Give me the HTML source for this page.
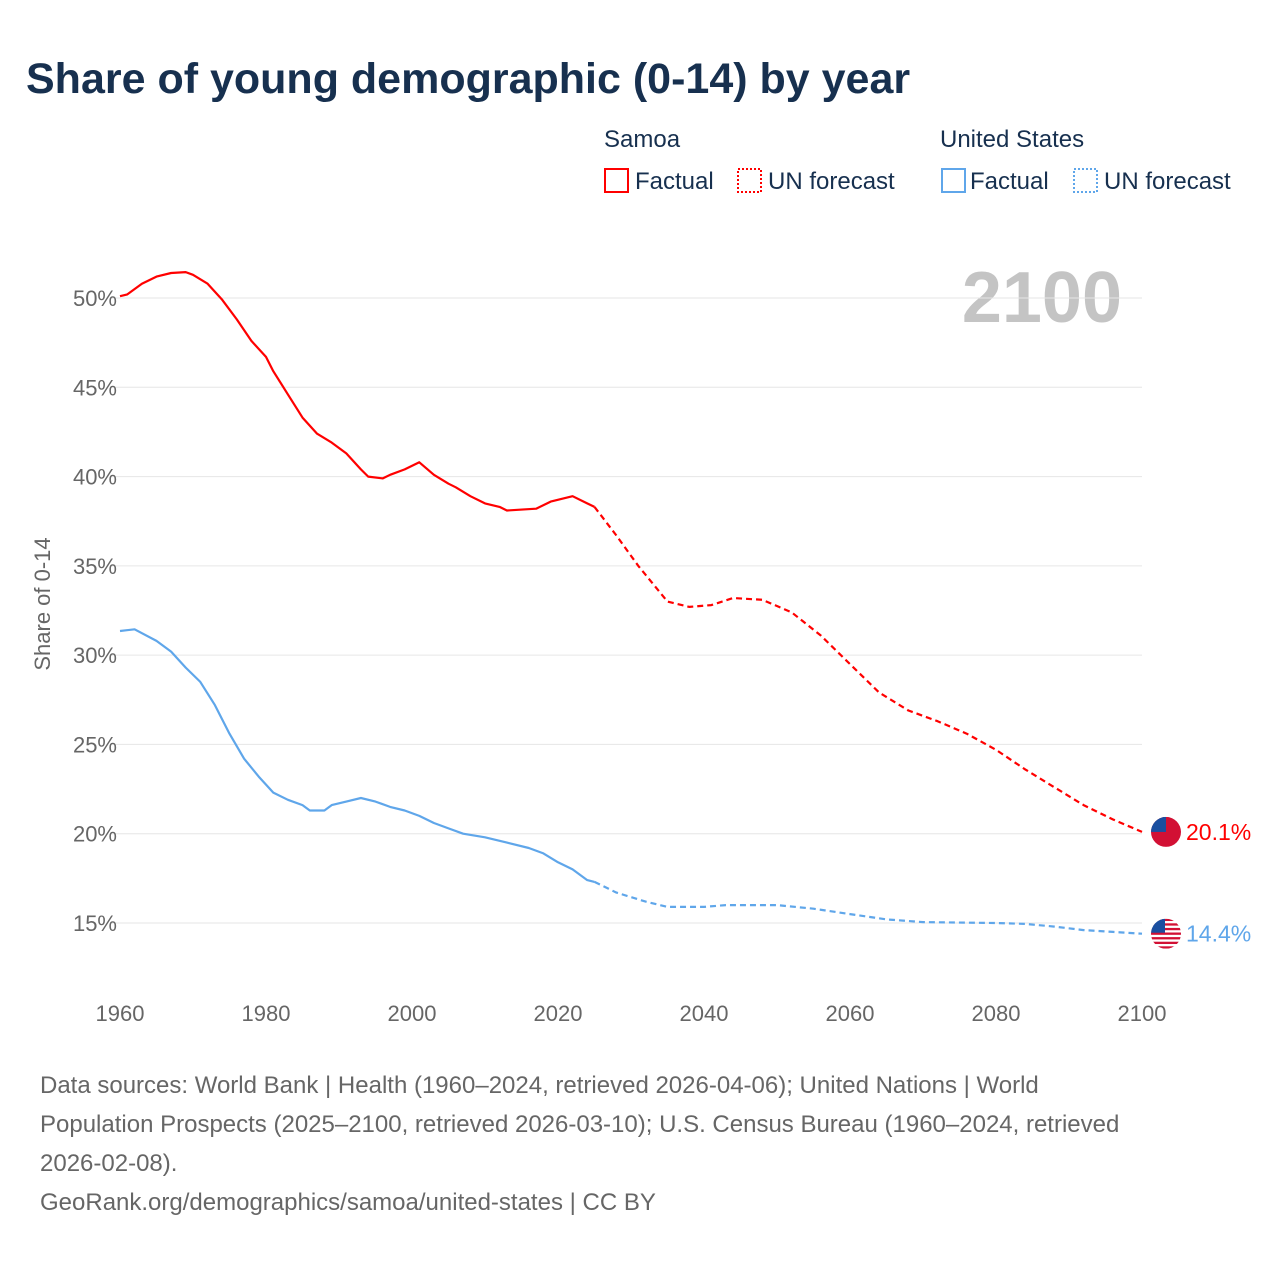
<!DOCTYPE html>
<html><head><meta charset="utf-8"><style>
body{margin:0;background:#fff;width:1280px;height:1280px;overflow:hidden;font-family:"Liberation Sans",sans-serif}
</style></head><body>
<svg id="chart" width="1280" height="1280" xmlns="http://www.w3.org/2000/svg" font-family="Liberation Sans, sans-serif">
<defs id="defs"></defs>
<text x="26" y="93" font-size="43" font-weight="bold" fill="#17304f">Share of young demographic (0-14) by year</text>
<g font-size="24" fill="#17304f">
<text x="604" y="147">Samoa</text>
<rect x="605" y="169" width="23" height="23" fill="none" stroke="#f00" stroke-width="2"/>
<text x="635" y="189">Factual</text>
<rect x="738" y="169" width="23" height="23" fill="none" stroke="#f00" stroke-width="2" stroke-dasharray="2 2"/>
<text x="768" y="189">UN forecast</text>
<text x="940" y="147">United States</text>
<rect x="942" y="169" width="23" height="23" fill="none" stroke="#5fa6ea" stroke-width="2"/>
<text x="970" y="189">Factual</text>
<rect x="1074" y="169" width="23" height="23" fill="none" stroke="#5fa6ea" stroke-width="2" stroke-dasharray="2 2"/>
<text x="1104" y="189">UN forecast</text>
</g>
<text x="1122" y="322" font-size="72" font-weight="bold" fill="#c4c4c4" text-anchor="end">2100</text>
<g id="grid"></g><g id="axes"></g><g id="lines"></g><g id="ends"></g>
<text transform="translate(50,604) rotate(-90)" font-size="22" fill="#666" text-anchor="middle">Share of 0-14</text>
<g font-size="24" fill="#666">
<text x="40" y="1093">Data sources: World Bank | Health (1960–2024, retrieved 2026-04-06); United Nations | World</text>
<text x="40" y="1132">Population Prospects (2025–2100, retrieved 2026-03-10); U.S. Census Bureau (1960–2024, retrieved</text>
<text x="40" y="1171">2026-02-08).</text>
<text x="40" y="1210">GeoRank.org/demographics/samoa/united-states | CC BY</text>
</g>
</svg>
<script>
const yTicks=[15,20,25,30,35,40,45,50];
const xTicks=[1960,1980,2000,2020,2040,2060,2080,2100];
const samoaYears=[1960,1961,1963,1965,1967,1969,1970,1972,1974,1976,1978,1980,1981,1983,1985,1987,1989,1991,1993,1994,1996,1997,1999,2001,2003,2005,2006,2008,2010,2012,2013,2017,2019,2022,2024,2025];
const samoaVals=[50.1,50.2,50.8,51.2,51.4,51.45,51.3,50.8,49.9,48.8,47.6,46.7,45.9,44.6,43.3,42.4,41.9,41.3,40.4,40.0,39.9,40.1,40.4,40.8,40.1,39.6,39.4,38.9,38.5,38.3,38.1,38.2,38.6,38.9,38.5,38.3];
const samoaFYears=[2025,2028,2031,2035,2038,2041,2044,2048,2052,2056,2060,2064,2068,2072,2076,2080,2084,2088,2092,2096,2100];
const samoaFVals=[38.3,36.7,35.0,33.0,32.7,32.8,33.2,33.1,32.4,31.1,29.5,27.9,26.9,26.3,25.6,24.7,23.6,22.6,21.6,20.8,20.1];
const usYears=[1960,1962,1965,1967,1969,1971,1973,1975,1977,1979,1981,1983,1985,1986,1988,1989,1991,1993,1995,1997,1999,2001,2003,2005,2007,2010,2013,2016,2018,2020,2022,2024,2025];
const usVals=[31.35,31.45,30.8,30.2,29.3,28.5,27.2,25.6,24.2,23.2,22.3,21.9,21.6,21.3,21.3,21.6,21.8,22.0,21.8,21.5,21.3,21.0,20.6,20.3,20.0,19.8,19.5,19.2,18.9,18.4,18.0,17.4,17.3];
const usFYears=[2025,2028,2032,2035,2040,2043,2050,2055,2060,2065,2070,2080,2084,2088,2092,2096,2100];
const usFVals=[17.3,16.7,16.2,15.9,15.9,16.0,16.0,15.8,15.5,15.2,15.05,15.0,14.95,14.8,14.6,14.5,14.4];
const NS="http://www.w3.org/2000/svg";
const X=y=>120+(y-1960)*(1142-120)/140;
const Y=v=>298+(50-v)*(923-298)/35;
function mk(t,a,p){const e=document.createElementNS(NS,t);for(const k in a)e.setAttribute(k,a[k]);p.appendChild(e);return e;}
const grid=document.getElementById('grid'),axes=document.getElementById('axes'),lines=document.getElementById('lines'),ends=document.getElementById('ends'),defs=document.getElementById('defs');
yTicks.forEach(v=>{
 const l=mk('line',{x1:110,x2:1142,y1:Y(v),y2:Y(v),stroke:'#e6e6e6','stroke-width':1},grid);
 
 
 const t=mk('text',{x:117,y:Y(v)+8,'font-size':22,fill:'#666','text-anchor':'end'},axes);
 t.textContent=v+'%';
 
 
});
xTicks.forEach(y=>{
 const t=mk('text',{x:X(y),y:1021,'font-size':22,fill:'#666','text-anchor':'middle'},axes);
 t.textContent=y;
 
 
});
function path(xs,vs,color,dash,name){
 const d=xs.map((y,i)=>(i?'L':'M')+X(y).toFixed(1)+' '+Y(vs[i]).toFixed(1)).join(' ');
 const p=mk('path',{d:d,fill:'none',stroke:color,'stroke-width':2.2,'stroke-linejoin':'round'},lines);
 if(dash)p.setAttribute('stroke-dasharray','6 4');
 
 
}
path(samoaYears,samoaVals,'#f00',false,'samoa-factual-line');
path(samoaFYears,samoaFVals,'#f00',true,'samoa-forecast-line');
path(usYears,usVals,'#5fa6ea',false,'us-factual-line');
path(usFYears,usFVals,'#5fa6ea',true,'us-forecast-line');
function endLabel(v,color,name,flag){
 const cx=1166,cy=Y(v);
 const cp=mk('clipPath',{id:'clip-'+name},defs);
 mk('circle',{cx:cx,cy:cy,r:15},cp);
 const g=mk('g',{'clip-path':'url(#clip-'+name+')'},ends);
 
 
 if(flag==='ws'){
  mk('rect',{x:cx-15,y:cy-15,width:30,height:30,fill:'#d21034'},g);
  mk('rect',{x:cx-15,y:cy-15,width:15,height:15,fill:'#1a4fa0'},g);
 }else{
  mk('rect',{x:cx-15,y:cy-15,width:30,height:30,fill:'#fff'},g);
  for(let i=0;i<7;i++)mk('rect',{x:cx-15,y:cy-15+i*4.6,width:30,height:2.3,fill:'#d21034'},g);
  mk('rect',{x:cx-15,y:cy-15,width:14,height:14,fill:'#1a4fa0'},g);
 }
 const t=mk('text',{x:1186,y:cy+8,'font-size':23,fill:color},ends);
 t.textContent=v.toFixed(1)+'%';
 
 
}
endLabel(samoaFVals[samoaFVals.length-1],'#f00','samoa','ws');
endLabel(usFVals[usFVals.length-1],'#5fa6ea','us','us');
</script>
</body></html>
